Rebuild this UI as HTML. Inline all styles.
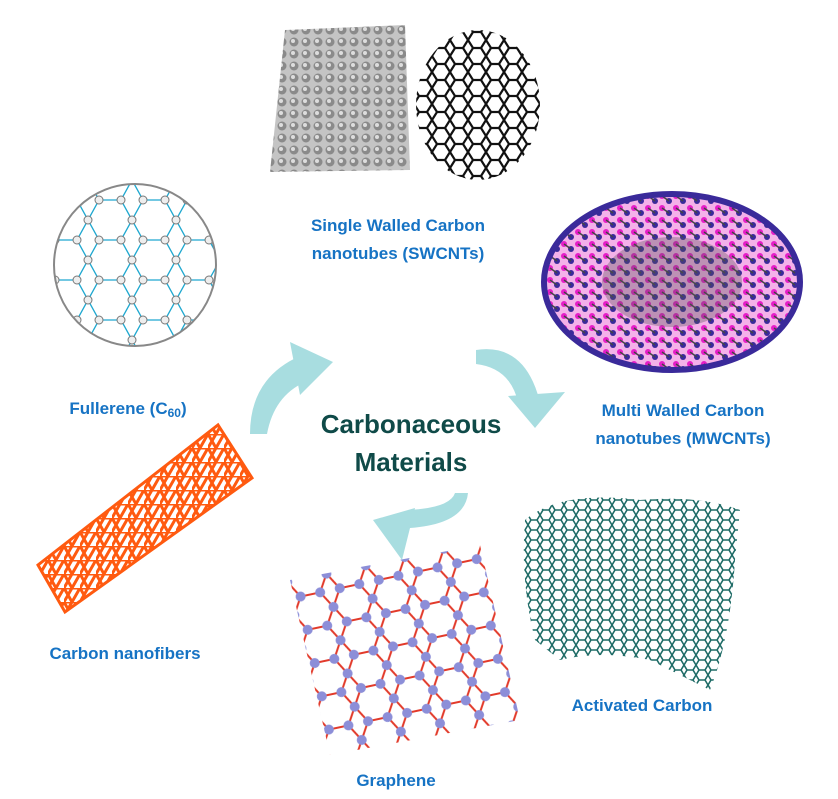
<!DOCTYPE html>
<html><head><meta charset="utf-8"><style>
html,body{margin:0;padding:0;background:#fff;}
svg{display:block;}
text{font-family:"Liberation Sans",Arial,sans-serif;font-weight:bold;}
</style></head><body>
<svg width="838" height="799" viewBox="0 0 838 799" xmlns="http://www.w3.org/2000/svg">
<defs>
<pattern id="gray" width="12" height="12" patternUnits="userSpaceOnUse">
<rect width="12" height="12" fill="#c4c4c4"/><circle cx="6" cy="6" r="4.5" fill="#8a8a8a"/><circle cx="5" cy="5" r="2" fill="#ddd"/></pattern>
<pattern id="blk" width="18" height="16" patternUnits="userSpaceOnUse">
<path d="M0 8 L5 0 L13 0 L18 8 L13 16 L5 16 Z" fill="none" stroke="#111" stroke-width="2.2"/></pattern>
<pattern id="mw" width="14" height="12" patternUnits="userSpaceOnUse">
<rect width="14" height="12" fill="#e020c0" opacity=".35"/><circle cx="4" cy="4" r="3" fill="#e61ec8"/><circle cx="11" cy="9" r="3" fill="#3a2a9a"/><path d="M4 4 L11 9" stroke="#444" stroke-width="1.5"/></pattern>
<pattern id="org" width="16" height="14" patternUnits="userSpaceOnUse">
<path d="M0 0 L16 0 L8 14 Z M0 14 L8 0" fill="none" stroke="#ff5a10" stroke-width="3"/></pattern>
<pattern id="gr" width="40" height="34" patternUnits="userSpaceOnUse" patternTransform="rotate(-12)">
<path d="M0 17 L10 0 L30 0 L40 17 L30 34 L10 34 Z" fill="none" stroke="#e23a2a" stroke-width="2"/>
<circle cx="10" cy="0" r="5" fill="#8c8ed8"/><circle cx="30" cy="0" r="5" fill="#8c8ed8"/><circle cx="0" cy="17" r="5" fill="#8c8ed8"/><circle cx="40" cy="17" r="5" fill="#8c8ed8"/><circle cx="10" cy="34" r="5" fill="#8c8ed8"/><circle cx="30" cy="34" r="5" fill="#8c8ed8"/></pattern>
<pattern id="ac" width="12" height="10" patternUnits="userSpaceOnUse">
<path d="M0 5 L3 0 L9 0 L12 5 L9 10 L3 10 Z" fill="none" stroke="#1e6b66" stroke-width="1.6"/></pattern>
<pattern id="ful" width="44" height="40" patternUnits="userSpaceOnUse">
<path d="M0 20 L11 0 L33 0 L44 20 L33 40 L11 40 Z" fill="none" stroke="#1fa8d0" stroke-width="1.3"/>
<circle cx="11" cy="0" r="4" fill="#eee" stroke="#777"/><circle cx="33" cy="0" r="4" fill="#eee" stroke="#777"/><circle cx="0" cy="20" r="4" fill="#eee" stroke="#777"/><circle cx="44" cy="20" r="4" fill="#eee" stroke="#777"/><circle cx="11" cy="40" r="4" fill="#eee" stroke="#777"/><circle cx="33" cy="40" r="4" fill="#eee" stroke="#777"/></pattern>
</defs>

<circle cx="135" cy="265" r="81" fill="url(#ful)" stroke="#888" stroke-width="2"/>
<polygon points="285,30 405,25 410,170 270,172" fill="url(#gray)"/>
<ellipse cx="478" cy="105" rx="62" ry="75" fill="url(#blk)"/>
<ellipse cx="672" cy="282" rx="128" ry="88" fill="url(#mw)"/>
<ellipse cx="672" cy="282" rx="70" ry="45" fill="#555" opacity=".35"/>
<ellipse cx="672" cy="282" rx="128" ry="88" fill="none" stroke="#3a2a9a" stroke-width="6"/>
<polygon points="38,565 65,612 252,478 218,425" fill="url(#org)" stroke="#ff5a10" stroke-width="3"/>
<polygon points="290,580 480,545 520,720 330,755" fill="url(#gr)"/>
<path d="M525 520 Q560 490 640 500 Q700 495 740 510 L735 560 Q730 640 710 690 L650 660 Q600 650 560 660 L535 640 Q520 580 525 520Z" fill="url(#ac)"/>

<g fill="#a8dde0">
<path d="M250 434 Q250 378 300 356 L305 382 Q274 396 267 434 Z"/>
<polygon points="290,342 333,362 300,395"/>
<path d="M476 350 Q522 343 538 395 L518 402 Q510 368 476 364 Z"/>
<polygon points="508,396 565,392 535,428"/>
<path d="M468 493 Q465 524 410 528 L408 510 Q450 508 455 493 Z"/>
<polygon points="373,520 415,508 402,560"/>
</g>

<g fill="#1673c4" font-size="17" text-anchor="middle">
<text x="398" y="231">Single Walled Carbon</text>
<text x="398" y="259">nanotubes (SWCNTs)</text>
<text x="128" y="414">Fullerene (C<tspan font-size="12" dy="3">60</tspan><tspan dy="-3">)</tspan></text>
<text x="683" y="416">Multi Walled Carbon</text>
<text x="683" y="444">nanotubes (MWCNTs)</text>
<text x="125" y="659">Carbon nanofibers</text>
<text x="642" y="711">Activated Carbon</text>
<text x="396" y="786">Graphene</text>
</g>
<g fill="#0f4a48" font-size="26" text-anchor="middle">
<text x="411" y="433">Carbonaceous</text>
<text x="411" y="471">Materials</text>
</g>
</svg>
</body></html>
